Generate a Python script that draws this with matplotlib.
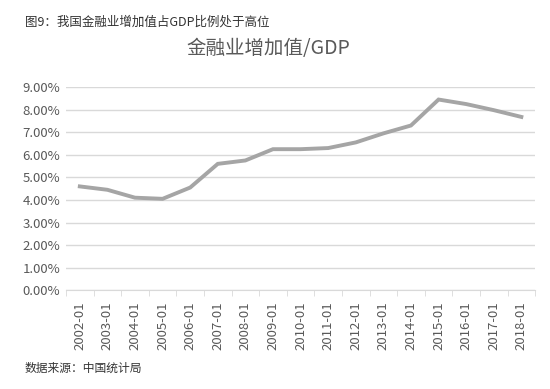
import matplotlib.pyplot as plt
from matplotlib.ticker import PercentFormatter, FixedLocator

plt.rcParams['font.family'] = ['Noto Sans CJK SC', 'DejaVu Sans']

years = ["2002-01", "2003-01", "2004-01", "2005-01", "2006-01", "2007-01",
         "2008-01", "2009-01", "2010-01", "2011-01", "2012-01", "2013-01",
         "2014-01", "2015-01", "2016-01", "2017-01", "2018-01"]
ratio = [4.60, 4.45, 4.10, 4.05, 4.55, 5.60, 5.75, 6.25, 6.25, 6.30,
         6.55, 6.95, 7.30, 8.45, 8.25, 7.98, 7.68]

fig = plt.figure(figsize=(5.5, 3.89), dpi=100)
ax = fig.add_axes([0.12, 0.254, 0.853, 0.522])

x = list(range(len(years)))
ax.plot(x, ratio, color="#a5a5a5", lw=2.8, solid_joinstyle="miter")

ax.set_xlim(-0.5, len(years) - 0.5)
ax.set_ylim(0, 9)
ax.set_yticks(range(0, 10))
ax.yaxis.set_major_formatter(PercentFormatter(decimals=2))
ax.grid(axis="y", color="#d9d9d9", lw=1)
ax.set_axisbelow(True)

ax.set_xticks(x)
ax.set_xticklabels(years, rotation=90)
ax.xaxis.set_minor_locator(FixedLocator([i - 0.5 for i in range(len(years) + 1)]))
ax.tick_params(axis="x", which="major", length=0, pad=8, labelsize=9.5, labelcolor="#595959")
ax.tick_params(axis="x", which="minor", length=4, color="#d9d9d9")
ax.tick_params(axis="y", length=0, labelsize=9.5, labelcolor="#595959", pad=4)

for s in ["top", "right", "left"]:
    ax.spines[s].set_visible(False)
ax.spines["bottom"].set_color("#d9d9d9")

fig.text(0.045, 0.935, "图9：我国金融业增加值占GDP比例处于高位", fontsize=9, color="#333333")
fig.text(0.488, 0.862, "金融业增加值/GDP", fontsize=14, color="#595959", ha="center")
fig.text(0.045, 0.045, "数据来源：中国统计局", fontsize=8.5, color="#333333")

fig.savefig("out.png", dpi=100)
